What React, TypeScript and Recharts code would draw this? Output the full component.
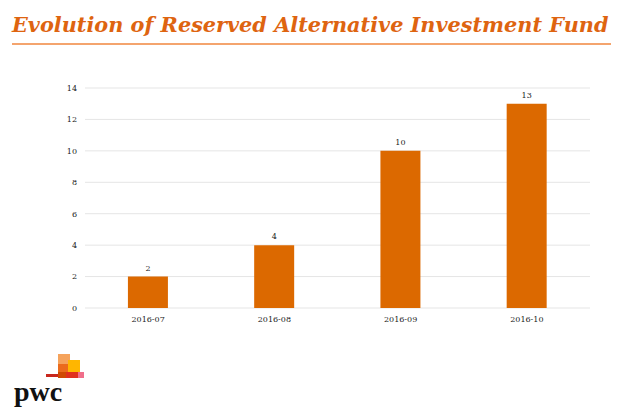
import React from "react";
import { BarChart, Bar, XAxis, YAxis, CartesianGrid, LabelList } from "recharts";

const months = ["2016-07", "2016-08", "2016-09", "2016-10"];
const funds = [2, 4, 10, 13];
const yTicks = [0, 2, 4, 6, 8, 10, 12, 14];

const data = months.map((m, i) => ({ month: m, funds: funds[i] }));

const serif = "'DejaVu Serif', 'Liberation Serif', serif";
const orange = "#DC6900";

const PwcLogo = () => (
  <svg width={90} height={60} style={{ position: "absolute", left: 10, top: 348 }}>
    <rect x={48} y={6} width={12} height={10} fill="#F5A35C" />
    <rect x={48} y={16} width={12} height={8} fill="#EB6B1C" />
    <rect x={58} y={12} width={12} height={14} fill="#FFB600" />
    <rect x={48} y={24} width={10} height={6} fill="#D04A02" />
    <rect x={56} y={24} width={14} height={6} fill="#E0301E" />
    <rect x={68} y={24} width={6} height={6} fill="#F06E8A" />
    <rect x={36} y={26} width={12} height={3} fill="#C8281E" />
    <text x={4} y={53} fontFamily="'Liberation Serif', serif" fontWeight="bold" fontSize={28} fill="#111">pwc</text>
  </svg>
);

export default function App() {
  return (
    <div style={{ position: "absolute", left: 0, top: 0, width: 630, height: 420, background: "#fff" }}>
      <div
        style={{
          position: "absolute",
          left: 12,
          top: 12,
          fontFamily: serif,
          fontStyle: "italic",
          fontWeight: "bold",
          fontSize: 20.8,
          lineHeight: "26px",
          color: "#DE6410",
          whiteSpace: "nowrap",
        }}
      >
        Evolution of Reserved Alternative Investment Fund
      </div>
      <div style={{ position: "absolute", left: 12, top: 43, width: 599, height: 2, background: "#F4A46E" }} />
      <div style={{ position: "absolute", left: 0, top: 0 }}>
        <BarChart
          width={630}
          height={420}
          data={data}
          margin={{ top: 88, right: 40, bottom: 92, left: 45 }}
          barCategoryGap="34%"
        >
          <CartesianGrid vertical={false} stroke="#e5e5e5" />
          <XAxis
            dataKey="month"
            tickLine={false}
            axisLine={false}
            tick={{ fontSize: 8, fill: "#222", fontFamily: serif }}
            height={20}
          />
          <YAxis
            width={40}
            domain={[0, 14]}
            ticks={yTicks}
            tickLine={false}
            axisLine={false}
            tick={{ fontSize: 8, fill: "#222", fontFamily: serif }}
          />
          <Bar dataKey="funds" fill={orange} isAnimationActive={false}>
            <LabelList dataKey="funds" position="top" offset={6} style={{ fontSize: 8, fill: "#222", fontFamily: serif }} />
          </Bar>
        </BarChart>
      </div>
      <PwcLogo />
    </div>
  );
}
